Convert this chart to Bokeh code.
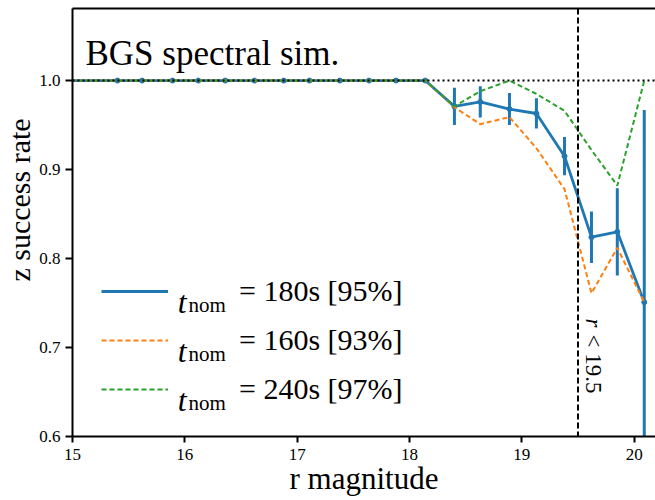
import math
from bokeh.plotting import figure
from bokeh.models import Range1d, FixedTicker, LinearAxis, Span, Label, Legend, LegendItem, ColumnDataSource
from bokeh.embed import file_html
from bokeh.resources import INLINE

# ---------------- data ----------------
r_mag = [14.91, 15.40, 15.62, 15.89, 16.12, 16.36, 16.62, 16.88, 17.11, 17.38,
         17.64, 17.88, 18.14, 18.40, 18.63, 18.89, 19.13, 19.38, 19.62, 19.85, 20.09]
rate_180 = [1.0, 1.0, 1.0, 1.0, 1.0, 1.0, 1.0, 1.0, 1.0, 1.0,
            1.0, 1.0, 1.0, 0.971, 0.976, 0.968, 0.963, 0.915, 0.824, 0.830, 0.751]
err_180 = [0.0, 0.0, 0.0, 0.0, 0.0, 0.0, 0.0, 0.0, 0.0, 0.0,
           0.0, 0.0, 0.0, 0.021, 0.0175, 0.018, 0.017, 0.0215, 0.029, 0.049, 0.216]
rate_160 = [1.0, 1.0, 1.0, 1.0, 1.0, 1.0, 1.0, 1.0, 1.0, 1.0,
            1.0, 1.0, 1.0, 0.970, 0.951, 0.959, 0.924, 0.878, 0.761, 0.812, 0.751]
rate_240 = [1.0, 1.0, 1.0, 1.0, 1.0, 1.0, 1.0, 1.0, 1.0, 1.0,
            1.0, 1.0, 1.0, 0.971, 0.988, 1.0, 0.985, 0.966, 0.922, 0.882, 1.0]

legend_labels = ["= 180s [95%]", "= 160s [93%]", "= 240s [97%]"]
x_ticks = [15, 16, 17, 18, 19, 20]
x_tick_labels = ["15", "16", "17", "18", "19", "20"]
y_ticks = [0.6, 0.7, 0.8, 0.9, 1.0]
y_tick_labels = ["0.6", "0.7", "0.8", "0.9", "1.0"]
r_limit = 19.5
title_text = "BGS spectral sim."
x_label = "r magnitude"
y_label = "z success rate"

FONT = "Liberation Serif"
BLUE, ORANGE, GREEN = "#1f77b4", "#ff7f0e", "#2ca02c"

src = ColumnDataSource(dict(
    x=r_mag, y180=rate_180, y160=rate_160, y240=rate_240,
    lo=[v - e for v, e in zip(rate_180, err_180)],
    hi=[v + e for v, e in zip(rate_180, err_180)],
))

p = figure(width=655, height=500, output_backend="svg", toolbar_location=None,
           x_range=Range1d(15, 20.19), y_range=Range1d(0.6, 1.081),
           min_border_left=71, min_border_right=0, min_border_top=8, min_border_bottom=64)
p.grid.visible = False
p.outline_line_color = None
p.background_fill_color = "white"
p.border_fill_color = "white"

# axes
for ax in (p.xaxis[0], p.yaxis[0]):
    ax.axis_line_width = 2
    ax.major_tick_line_width = 2
    ax.minor_tick_line_color = None
    ax.major_tick_in = 0
    ax.major_label_text_font = FONT
    ax.major_label_text_color = "black"
    ax.axis_line_color = "black"
    ax.major_tick_line_color = "black"
    ax.axis_label_text_font = FONT
    ax.axis_label_text_font_style = "normal"
    ax.axis_label_text_color = "black"
    ax.axis_label_standoff = 0

p.xaxis.ticker = FixedTicker(ticks=x_ticks)
p.xaxis.major_label_overrides = {t: l for t, l in zip(x_ticks, x_tick_labels)}
p.xaxis.major_tick_out = 6
p.xaxis.major_label_standoff = 6
p.xaxis.major_label_text_font_size = "17px"
p.xaxis.axis_label = x_label
p.xaxis.axis_label_text_font_size = "31px"
p.xaxis.axis_label_standoff = -2

p.yaxis.ticker = FixedTicker(ticks=y_ticks)
p.yaxis.major_label_overrides = {t: l for t, l in zip(y_ticks, y_tick_labels)}
p.yaxis.major_tick_out = 7
p.yaxis.major_label_standoff = 5
p.yaxis.major_label_text_font_size = "17px"
# leading en-spaces shift the centred label up, as in the reference
p.yaxis.axis_label = "\u2002\u2002\u2002" + y_label
p.yaxis.axis_label_text_font_size = "30px"

top = LinearAxis(ticker=FixedTicker(ticks=[]), axis_line_width=2, axis_line_color="black",
                 major_tick_line_color=None, minor_tick_line_color=None,
                 major_label_text_font_size="0px", major_label_standoff=0)
p.add_layout(top, "above")

# reference lines
p.add_layout(Span(location=1.0, dimension="width", line_color="black",
                  line_width=2, line_dash="2 3"))
p.add_layout(Span(location=r_limit, dimension="height", line_color="black",
                  line_width=2, line_dash="6 3"))

# series
r180 = p.line("x", "y180", source=src, line_color=BLUE, line_width=2.8)
p.segment(x0="x", y0="lo", x1="x", y1="hi", source=src, line_color=BLUE, line_width=3)
p.scatter("x", "y180", source=src, size=5, color=BLUE)
r160 = p.line("x", "y160", source=src, line_color=ORANGE, line_width=2, line_dash="5 3")
r240 = p.line("x", "y240", source=src, line_color=GREEN, line_width=2, line_dash="5 3")

legend = Legend(items=[LegendItem(label=legend_labels[0], renderers=[r180]),
                       LegendItem(label=legend_labels[1], renderers=[r160]),
                       LegendItem(label=legend_labels[2], renderers=[r240])],
                location=(29, 29), orientation="vertical",
                glyph_width=67, glyph_height=30, label_height=37, label_width=10,
                label_standoff=71, spacing=12, padding=0, margin=0,
                border_line_color=None, background_fill_alpha=0,
                label_text_font=FONT, label_text_font_size="30px", label_text_color="black")
p.add_layout(legend, "center")

# "t_nom" parts of legend labels
for base in (134.9, 85.9, 36.9):
    p.add_layout(Label(x=105.2, y=base, x_units="screen", y_units="screen", text="t",
                       text_font=FONT, text_font_style="italic", text_font_size="32px",
                       text_baseline="alphabetic", text_color="black"))
    p.add_layout(Label(x=116.0, y=base - 3, x_units="screen", y_units="screen", text="nom",
                       text_font=FONT, text_font_size="21px",
                       text_baseline="alphabetic", text_color="black"))

# title text inside the plot
p.add_layout(Label(x=13, y=383.3, x_units="screen", y_units="screen", text=title_text,
                   text_font=FONT, text_font_size="35px", text_baseline="alphabetic",
                   text_color="black"))

# r < 19.5 annotation
p.add_layout(Label(x=520.7, y=118, x_units="screen", y_units="screen", text="r",
                   angle=-math.pi / 2, text_font=FONT, text_font_style="italic",
                   text_font_size="23px", text_baseline="middle", text_align="left",
                   text_color="black"))
p.add_layout(Label(x=520.7, y=102, x_units="screen", y_units="screen", text="< 19.5",
                   angle=-math.pi / 2, text_font=FONT,
                   text_font_size="23px", text_baseline="middle", text_align="left",
                   text_color="black"))

open("out.html", "w").write(file_html(p, INLINE))
